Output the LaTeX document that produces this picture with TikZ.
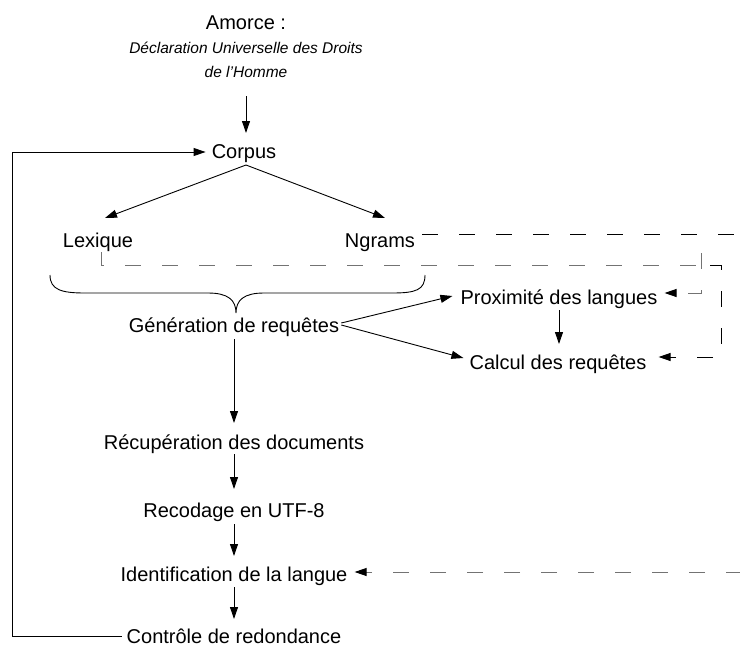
\documentclass[tikz,border=0pt]{standalone}
\usepackage{fontspec}
\setmainfont{Liberation Sans}
\usetikzlibrary{arrows.meta,calc}
\begin{document}
\begin{tikzpicture}[x=1pt,y=-1pt,
  lbl/.style={font=\fontsize{20}{24}\selectfont, inner sep=0pt, anchor=base},
  sub/.style={font=\fontsize{15.5}{18}\selectfont\itshape, inner sep=0pt, anchor=base},
  arr/.style={-{Triangle[length=12pt,width=8pt,black]}, line width=0.9pt},
  plain/.style={line width=0.9pt},
  dsh/.style={line width=1pt, dash pattern=on 16pt off 21pt},
  gdsh/.style={dsh, draw=black!55}]
\useasboundingbox (0,0) rectangle (740,646);

\node[lbl] (amorce) at (246,29) {Amorce :};
\node[sub] (decl) at (246,53) {Déclaration Universelle des Droits};
\node[sub] (homme) at (246,77) {de l'Homme};
\node[lbl] (corpus) at (244,158) {Corpus};
\node[lbl] (lex) at (98,247) {Lexique};
\node[lbl] (ngr) at (380,247) {Ngrams};
\node[lbl] (gen) at (234,332) {Génération de requêtes};
\node[lbl] (prox) at (559,304) {Proximité des langues};
\node[lbl] (calc) at (558,369) {Calcul des requêtes};
\node[lbl] (recup) at (234,449) {Récupération des documents};
\node[lbl] (recod) at (234,517) {Recodage en UTF-8};
\node[lbl] (ident) at (234,581) {Identification de la langue};
\node[lbl] (ctrl) at (234,643) {Contrôle de redondance};

\coordinate (ngrend) at (742,234);
\coordinate (lexcorner) at (701,265);
\coordinate (proxtop) at (701,253);
\coordinate (proxcorner) at (701,293);
\coordinate (calcstart) at (710,265);
\coordinate (calccorner) at (721,265);
\coordinate (identstart) at (742,572);

% main flow
\draw[arr] ($(homme.base)+(0,19)$) -- ($(corpus.base)+(2,-25)$);
\draw[arr] ($(corpus.base)+(2,7)$) -- ($(lex.base)+(7,-29)$);
\draw[arr] ($(corpus.base)+(2,7)$) -- ($(ngr.base)+(5,-29)$);
\draw[arr] ($(gen.base east)+(2,-9)$) -- ($(prox.base west)+(-8,-8)$);
\draw[arr] ($(gen.base east)+(2,-7)$) -- ($(calc.base west)+(-6,-11)$);
\draw[arr] ($(prox.base)+(0,6)$) -- ($(calc.base)+(1,-25)$);
\draw[arr] ($(gen.base)+(0,7)$) -- ($(recup.base)+(0,-26)$);
\draw[arr] ($(recup.base)+(0,5)$) -- ($(recod.base)+(0,-28)$);
\draw[arr] ($(recod.base)+(0,7)$) -- ($(ident.base)+(0,-25)$);
\draw[arr] ($(ident.base)+(0,6)$) -- ($(ctrl.base)+(0,-24)$);
\draw[arr] ($(ctrl.base west)+(-5,-7)$) -- ++(-109,0) |- ($(corpus.base west)+(-6,-6)$);

% brace
\draw[plain] (50,275) .. controls (50,290) and (62,293) .. (85,293) -- (208,293)
  .. controls (228,293) and (236,300) .. (236,313)
  .. controls (236,300) and (244,293) .. (264,293) -- (392,293)
  .. controls (416,293) and (425,290) .. (425,275);

% dashed connectors
\draw[dsh] ($(ngr.base east)+(7,-13)$) -- (ngrend);
\draw[gdsh] ($(lex.base)+(3,5)$) -- ($(lex.base)+(3,18)$) -- (lexcorner);
\draw[gdsh, -{Triangle[length=12pt,width=8pt,black]}] (proxtop) -- (proxcorner) -- ($(prox.base east)+(7,-11)$);
\draw[dsh, -{Triangle[length=12pt,width=8pt,black]}] (calcstart) -- (calccorner) |- ($(calc.base east)+(12,-12)$);
\draw[gdsh, -{Triangle[length=12pt,width=8pt,black]}] (identstart) -- ($(ident.base east)+(7,-9)$);
\end{tikzpicture}
\end{document}
